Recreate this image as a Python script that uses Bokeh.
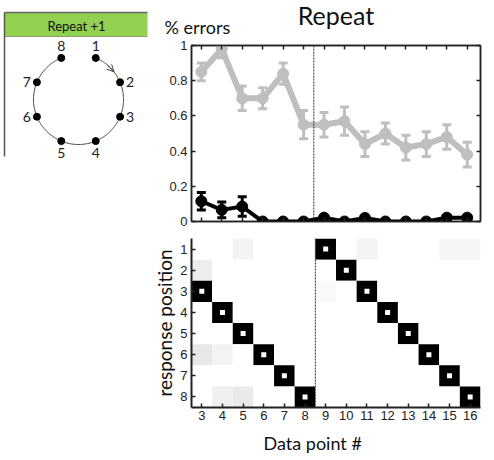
import numpy as np
from bokeh.plotting import figure
from bokeh.layouts import row, column
from bokeh.models import (Range1d, LinearAxis, FixedTicker, Whisker, TeeHead,
                          ColumnDataSource, Span, Title, LinearColorMapper, Arrow,
                          OpenHead)
from bokeh.core.properties import value
from bokeh.palettes import Greys256
from bokeh.embed import file_html
from bokeh.resources import INLINE

# ---------------- data ----------------
data_points = [3, 4, 5, 6, 7, 8, 9, 10, 11, 12, 13, 14, 15, 16]

# proportion of errors per data point (two groups) with s.e.m.
errors_gray = [0.85, 0.98, 0.70, 0.70, 0.84, 0.55, 0.55, 0.57, 0.44, 0.50, 0.42, 0.44, 0.48, 0.38]
errors_gray_sem = [0.05, 0.05, 0.07, 0.06, 0.06, 0.08, 0.07, 0.08, 0.07, 0.06, 0.07, 0.07, 0.07, 0.07]
errors_black = [0.115, 0.066, 0.085, 0.0, 0.0, 0.0, 0.022, 0.0, 0.02, 0.0, 0.0, 0.0, 0.022, 0.022]
errors_black_sem = [0.05, 0.045, 0.055, 0.004, 0.004, 0.004, 0.012, 0.004, 0.01, 0.004, 0.004, 0.004, 0.012, 0.012]

y_ticks = [0, 0.2, 0.4, 0.6, 0.8, 1.0]
y_tick_labels = ["0", "0.2", "0.4", "0.6", "0.8", "1"]

# response-position map: correct target for each data point (repeat +1 rule)
positions = [1, 2, 3, 4, 5, 6, 7, 8]
correct_position = [3, 4, 5, 6, 7, 8, 1, 2, 3, 4, 5, 6, 7, 8]
# occasional responses away from the target: (data point, position, proportion)
stray_point = [3, 5, 3, 4, 4, 5, 9, 11, 15, 16]
stray_position = [2, 1, 6, 6, 8, 8, 3, 1, 1, 1]
stray_share = [0.06, 0.04, 0.08, 0.04, 0.05, 0.07, 0.02, 0.04, 0.03, 0.03]

boundary = 8.5  # dashed divider between the two blocks

# ring of 8 locations in the task schematic
ring_labels = ["1", "2", "3", "4", "5", "6", "7", "8"]
task_name = "Repeat +1"

TICK_FONT = "Liberation Sans"
LABEL_FONT = "Lato"

# ---------------- task schematic ----------------
ps = figure(width=150, height=460, x_range=Range1d(0, 150), y_range=Range1d(460, 0),
            output_backend="svg", toolbar_location=None, min_border=0,
            x_axis_location=None, y_axis_location=None)
ps.grid.visible = False
ps.outline_line_color = None
ps.background_fill_color = "white"

ps.quad(left=4, right=147, top=12, bottom=36, fill_color="#92D050", line_color=None)
ps.line([4, 147], [12, 12], line_color="#666666", line_width=1.5)
ps.line([4, 147], [36, 36], line_color="#8aa070", line_width=1)
ps.line([4, 4], [12, 156], line_color="#555555", line_width=1.5)
ps.text(x=[76], y=[25], text=[task_name], text_align="center", text_baseline="middle",
        text_font=value(LABEL_FONT), text_font_size="13px", text_color="#111111")

cx, cy, r = 78.0, 99.0, 45.0
theta = np.deg2rad(22.5 + 45.0 * (np.array(positions) - 1))
nx = cx + r * np.sin(theta)
ny = cy - r * np.cos(theta)

arc_t = np.linspace(theta[0], theta[-1], 200)
ps.line(cx + r * np.sin(arc_t), cy - r * np.cos(arc_t), line_color="#444444", line_width=1)
a0, a1 = np.deg2rad(40), np.deg2rad(52)
ps.add_layout(Arrow(end=OpenHead(size=7, line_color="#444444", line_width=1),
                    x_start=cx + r * np.sin(a0), y_start=cy - r * np.cos(a0),
                    x_end=cx + r * np.sin(a1), y_end=cy - r * np.cos(a1),
                    line_color="#444444", line_width=1))
ps.scatter(nx, ny, size=7, fill_color="black", line_color="black")

# labels pushed outward along the dominant direction
s, c = np.sin(theta), np.cos(theta)
vert = np.abs(c) > np.abs(s)
lx = nx + np.where(vert, 0, np.sign(s) * 10)
ly = ny + np.where(vert, -np.sign(c) * 12, 0)
ps.text(x=lx, y=ly, text=ring_labels, text_align="center", text_baseline="middle",
        text_font=value(LABEL_FONT), text_font_size="14px", text_color="#222222")

# ---------------- error rates ----------------
p1 = figure(width=344, height=228, x_range=Range1d(2.52, 16.65), y_range=Range1d(0, 1),
            output_backend="svg", toolbar_location=None,
            min_border_left=40, min_border_right=11, min_border_top=45, min_border_bottom=7,
            x_axis_location=None, y_axis_location=None)
p1.grid.visible = False
p1.outline_line_color = "#222222"
p1.outline_line_width = 1.5


def side_axis(fig, side, ticks, overrides=None):
    ax = LinearAxis(ticker=FixedTicker(ticks=ticks))
    ax.axis_line_color = "#222222"
    ax.axis_line_width = 1.5
    ax.major_tick_in = 4
    ax.major_tick_out = 0
    ax.major_tick_line_color = "#222222"
    ax.major_tick_line_width = 1.5
    ax.minor_tick_line_color = None
    if overrides is None:
        # tick marks only, no tick text on this side
        ax.major_label_text_color = None
        ax.major_label_text_font_size = "1px"
        ax.major_label_standoff = 0
    else:
        ax.major_label_overrides = overrides
        ax.major_label_text_font = TICK_FONT
        ax.major_label_text_font_size = "13px"
        ax.major_label_text_color = "#222222"
        ax.major_label_standoff = 4
    fig.add_layout(ax, side)
    return ax


side_axis(p1, "left", y_ticks, {t: l for t, l in zip(y_ticks, y_tick_labels)})
side_axis(p1, "right", y_ticks)
side_axis(p1, "above", data_points)
side_axis(p1, "below", data_points)

# "% errors" sits at the top-left, level with the centred title
p1.add_layout(Title(text="% errors", align="left", offset=-27, standoff=12,
                    vertical_align="top",
                    text_font=LABEL_FONT, text_font_size="18px",
                    text_font_style="normal", text_color="#111111"), "above")
p1.title.text = "Repeat"
p1.title.align = "center"
p1.title.standoff = -41
p1.title.text_font = LABEL_FONT
p1.title.text_font_size = "25px"
p1.title.text_font_style = "normal"
p1.title.text_color = "#111111"

p1.add_layout(Span(location=boundary, dimension="height", line_color="#333333",
                   line_width=1, line_dash="2 1"))

gray_src = ColumnDataSource(dict(
    x=data_points, y=errors_gray,
    lo=[v - e for v, e in zip(errors_gray, errors_gray_sem)],
    hi=[v + e for v, e in zip(errors_gray, errors_gray_sem)]))
black_src = ColumnDataSource(dict(
    x=data_points, y=errors_black,
    lo=[v - e for v, e in zip(errors_black, errors_black_sem)],
    hi=[v + e for v, e in zip(errors_black, errors_black_sem)]))

for src, col, lw in ((gray_src, "#bfbfbf", 6), (black_src, "#000000", 4)):
    p1.line("x", "y", source=src, line_color=col, line_width=lw)
    p1.add_layout(Whisker(source=src, base="x", lower="lo", upper="hi",
                          line_color=col, line_width=3,
                          lower_head=TeeHead(size=9, line_color=col, line_width=3),
                          upper_head=TeeHead(size=9, line_color=col, line_width=3)))
    p1.scatter("x", "y", source=src, size=11, fill_color=col, line_color=col)

# ---------------- response positions ----------------
p2 = figure(width=344, height=232, x_range=Range1d(2.5, 16.5), y_range=Range1d(8.5, 0.5),
            output_backend="svg", toolbar_location=None,
            min_border_left=40, min_border_right=14, min_border_top=10, min_border_bottom=53,
            x_axis_location=None, y_axis_location=None)
p2.grid.visible = False
p2.outline_line_color = None

share = {(d, cp): 1.0 for d, cp in zip(data_points, correct_position)}
for d, pos, v in zip(stray_point, stray_position, stray_share):
    share[(d, pos)] = v
    share[(d, correct_position[data_points.index(d)])] -= v

cells = dict(x=[], y=[], v=[])
for d in data_points:
    for pos in positions:
        cells["x"].append(d)
        cells["y"].append(pos)
        cells["v"].append(share.get((d, pos), 0.0))

mapper = LinearColorMapper(palette=list(reversed(Greys256)), low=0, high=0.85)
p2.rect("x", "y", width=1, height=1, source=ColumnDataSource(cells),
        fill_color={"field": "v", "transform": mapper}, line_color=None)
p2.scatter(data_points, correct_position, marker="square", size=5,
           fill_color="white", line_color=None)

p2.add_layout(Span(location=boundary, dimension="height", line_color="#333333",
                   line_width=1, line_dash="2 1"))

ya = side_axis(p2, "left", positions, {p: str(p) for p in positions})
ya.axis_label = "response position"
ya.axis_label_text_font = LABEL_FONT
ya.axis_label_text_font_size = "19px"
ya.axis_label_text_font_style = "normal"
ya.axis_label_text_color = "#111111"
ya.axis_label_standoff = 1
ya.axis_line_width = 2

xa = side_axis(p2, "below", data_points, {d: str(d) for d in data_points})
xa.axis_line_width = 2
xa.major_label_standoff = 3

p2.add_layout(Title(text="Data point #", align="left", offset=72, standoff=14,
                    text_font=LABEL_FONT, text_font_size="18px",
                    text_font_style="normal", text_color="#111111"), "below")

layout = row(ps, column(p1, p2))
open("out.html", "w").write(file_html(layout, INLINE))
